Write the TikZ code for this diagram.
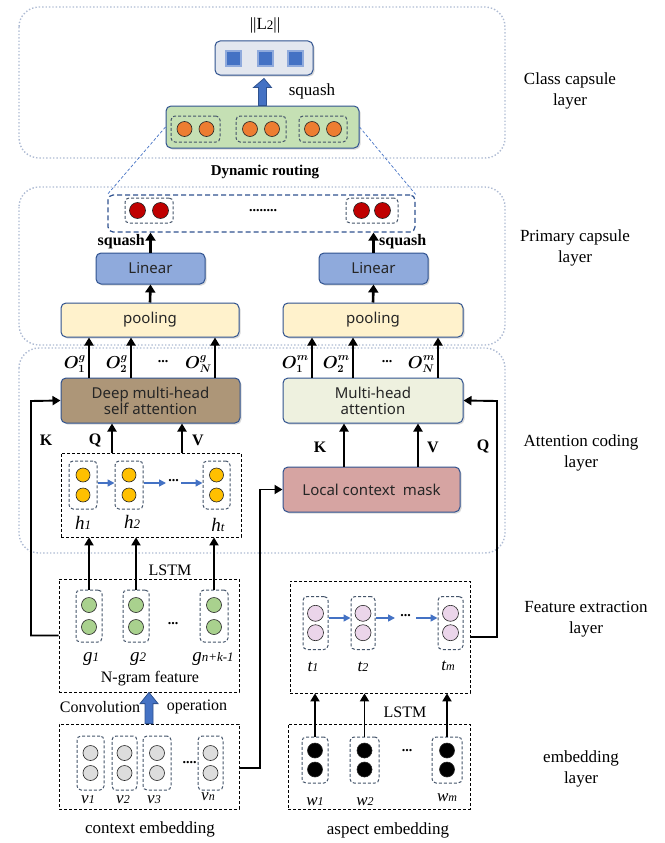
\documentclass[tikz,border=0pt]{standalone}
\usepackage{fontspec}
\usepackage{bm}
\setmainfont{Liberation Serif}
\newfontfamily\sansf{Noto Sans}
\usetikzlibrary{arrows.meta,shadows,calc}
\definecolor{bdr}{HTML}{2F528F}
\definecolor{layerc}{HTML}{AEBBD3}
\definecolor{cellc}{HTML}{44546A}
\definecolor{linfill}{HTML}{8FAADC}
\definecolor{poolfill}{HTML}{FFF2CC}
\definecolor{greenfill}{HTML}{C5E0B4}
\definecolor{outfill}{HTML}{E3E7EF}
\definecolor{sqin}{HTML}{4472C4}
\definecolor{sqout}{HTML}{8FAADC}
\definecolor{orng}{HTML}{ED7D31}
\definecolor{redc}{HTML}{C00000}
\definecolor{deepfill}{HTML}{AD9678}
\definecolor{mhfill}{HTML}{EEF1DF}
\definecolor{lcmfill}{HTML}{D6A4A2}
\definecolor{yel}{HTML}{FFC000}
\definecolor{grn}{HTML}{A9D18E}
\definecolor{pnk}{HTML}{EBD5EA}
\definecolor{gry}{HTML}{DDDDDD}
\definecolor{blu}{HTML}{4472C4}
\newcommand\vcell[7]{%
  \node[cellbox,minimum width=#4,minimum height=#5] (#1) at (#2,#3) {};
  \node[#7] (#1a) at (#2,#3-#6) {};
  \node[#7] (#1b) at (#2,#3+#6) {};}
\newcommand\hcell[7]{%
  \node[cellbox,minimum width=#4,minimum height=#5] (#1) at (#2,#3) {};
  \node[#7] (#1a) at (#2-#6,#3) {};
  \node[#7] (#1b) at (#2+#6,#3) {};}
\newcommand\olab[2]{$\bm{O}^{\raisebox{2pt}{$\scriptstyle\bm{#2}$}}_{\bm{#1}}$}
\begin{document}
\begin{tikzpicture}[x=1pt,y=-1pt,
  layerbox/.style={draw=layerc,dotted,line width=1.4pt,rounded corners=20pt},
  cbox/.style={draw=bdr,line width=1pt,rounded corners=5pt,inner sep=0,
     font=\sansf\fontsize{15}{18}\selectfont,text=black!85,align=center,
     drop shadow={shadow xshift=1.5pt,shadow yshift=-1.5pt,opacity=0.3}},
  cellbox/.style={draw=cellc,dashed,dash pattern=on 3pt off 2pt,line width=1pt,rounded corners=4pt,inner sep=0},
  bbox/.style={draw=black,dashed,dash pattern=on 3pt off 2pt,line width=0.8pt,inner sep=0},
  dotb/.style={circle,draw=black!85,line width=0.6pt,inner sep=0,minimum size=15pt},
  ydot/.style={dotb,fill=yel,minimum size=14pt},
  gdot/.style={dotb,fill=grn},
  pdot/.style={dotb,fill=pnk,minimum size=16pt},
  vdot/.style={dotb,fill=gry},
  kdot/.style={dotb,fill=black},
  odot/.style={dotb,fill=orng},
  rdot/.style={dotb,fill=redc,minimum size=16pt},
  sq/.style={draw=sqout,fill=sqin,line width=2pt,minimum size=15pt,inner sep=0},
  arr/.style={-{Triangle[length=8pt,width=9pt]},line width=1.9pt},
  tarr/.style={-{Triangle[length=8pt,width=10pt]},line width=2.6pt},
  barr/.style={draw=blu,-{Triangle[length=7pt,width=7pt]},line width=1.5pt},
  bigarr/.style={fill=blu,draw=bdr,line width=0.8pt,line join=miter},
  lbl/.style={font=\fontsize{16}{19}\selectfont,inner sep=0},
  blbl/.style={font=\bfseries\fontsize{15}{18}\selectfont,inner sep=0},
  rlbl/.style={font=\fontsize{17}{21}\selectfont,align=center,inner sep=0},
  ilbl/.style={font=\itshape\fontsize{19}{22}\selectfont,inner sep=0},
  olbl/.style={font=\fontsize{16}{19}\selectfont,inner sep=0,anchor=east},
  dots/.style={font=\bfseries\fontsize{14}{16}\selectfont,inner sep=0}
]
\useasboundingbox (0,0) rectangle (664,843);

% layer frames
\draw[layerbox] (19,7) rectangle (505,158);
\draw[layerbox] (19,187) rectangle (505,345);
\draw[layerbox] (19,348) rectangle (505,553);

% right labels
\node[rlbl] (lab1) at (570,90.5) {Class capsule\\layer};
\node[rlbl] (lab2) at (575,247.5) {Primary capsule\\layer};
\node[rlbl] (lab3) at (581,452.5) {Attention coding\\layer};
\node[rlbl] (lab4) at (586,619) {Feature extraction\\layer};
\node[rlbl] (lab5) at (581,768.5) {embedding\\layer};

% class capsule layer
\node[lbl,font=\fontsize{17}{20}\selectfont] (l2) at (265,25) {||L{\fontsize{13}{14}\selectfont 2}||};
\node[cbox,fill=outfill,minimum width=98pt,minimum height=34pt] (out) at (264,58) {};
\node[sq] (sq1) at (233,59) {};
\node[sq] (sq2) at (265,59) {};
\node[sq] (sq3) at (295,59) {};
\node[cbox,fill=greenfill,minimum width=193pt,minimum height=42pt] (green) at (262.5,127) {};
\hcell{oc1}{195.5}{129}{49pt}{26pt}{11}{odot}
\hcell{oc2}{261}{129}{50pt}{26pt}{11}{odot}
\hcell{oc3}{323}{129}{48pt}{26pt}{11}{odot}
\filldraw[bigarr] ($(green.north)+(-4,0)$) -- ++(0,-18) -- ++(-5,0) -- ($(out.south)+(0,3)$)
   -- ($(green.north)+(9,-18)$) -- ++(-5,0) -- ($(green.north)+(4,0)$) -- cycle;
\node[lbl,font=\fontsize{17}{20}\selectfont] (sq0) at (312,91) {squash};
\node[blbl] (dyn) at (265,172) {Dynamic routing};

% primary capsule layer
\node[draw=bdr,dashed,dash pattern=on 5pt off 3pt,line width=1.2pt,rounded corners=5pt,
  minimum width=307pt,minimum height=37pt,inner sep=0] (prim) at (261.5,213.5) {};
\hcell{rc1}{149}{210.5}{48pt}{25pt}{11.5}{rdot}
\hcell{rc2}{372}{210.5}{52pt}{25pt}{10.5}{rdot}
\node[dots] (pdots) at (263,211) {........};
\draw[blu,dashed,dash pattern=on 3pt off 2pt,line width=0.7pt] (green.west) -- (prim.north west);
\draw[blu,dashed,dash pattern=on 3pt off 2pt,line width=0.7pt] (green.east) -- (prim.north east);

\node[cbox,fill=linfill,minimum width=109pt,minimum height=31pt] (lin1) at (150.5,268.5) {Linear};
\node[cbox,fill=linfill,minimum width=109pt,minimum height=31pt] (lin2) at (373.5,268.5) {Linear};
\node[cbox,fill=poolfill,minimum width=178pt,minimum height=34pt] (pool1) at (150,320) {pooling};
\node[cbox,fill=poolfill,minimum width=180pt,minimum height=34pt] (pool2) at (373,320) {pooling};
\draw[tarr] (pool1.north) -- (lin1.south);
\draw[tarr] (pool2.north) -- (lin2.south);
\draw[tarr] (lin1.north) -- (lin1.north |- prim.south);
\draw[tarr] (lin2.north) -- (lin2.north |- prim.south);
\node[blbl,font=\bfseries\fontsize{16}{19}\selectfont,anchor=east] (sqL) at (145,242) {squash};
\node[blbl,font=\bfseries\fontsize{16}{19}\selectfont,anchor=west] (sqR) at (379,242) {squash};

% attention coding layer
\node[cbox,fill=deepfill,minimum width=179pt,minimum height=45pt] (deep) at (150.5,400.5) {Deep multi-head\\[-2pt]self attention};
\node[cbox,fill=mhfill,minimum width=180pt,minimum height=45pt] (mh) at (373,400.5) {Multi-head\\[-2pt]attention};
\node[cbox,fill=lcmfill,minimum width=177pt,minimum height=45pt] (lcm) at (371.5,489.5) {Local context\ \ mask};

\draw[arr] (89,0 |- deep.north) -- (89,0 |- pool1.south);
\draw[arr] (131,0 |- deep.north) -- (131,0 |- pool1.south);
\draw[arr] (215,0 |- deep.north) -- (215,0 |- pool1.south);
\draw[arr] (312,0 |- mh.north) -- (312,0 |- pool2.south);
\draw[arr] (353,0 |- mh.north) -- (353,0 |- pool2.south);
\draw[arr] (438,0 |- mh.north) -- (438,0 |- pool2.south);
\node[olbl] (og1) at (86,364) {\olab{1}{g}};
\node[olbl] (og2) at (128,364) {\olab{2}{g}};
\node[dots] (ogd) at (163,362) {...};
\node[olbl] (og3) at (212,364) {\olab{N}{g}};
\node[olbl] (om1) at (309,364) {\olab{1}{m}};
\node[olbl] (om2) at (350,364) {\olab{2}{m}};
\node[dots] (omd) at (387,362) {...};
\node[olbl] (om3) at (435,364) {\olab{N}{m}};

\node[bbox,minimum width=180pt,minimum height=84pt] (hbox) at (151,495) {};
\vcell{h1}{83}{485}{28pt}{48pt}{10}{ydot}
\vcell{h2}{129}{485}{28pt}{48pt}{10}{ydot}
\vcell{h3}{216.5}{485}{27pt}{48pt}{10}{ydot}
\coordinate (hd1) at (166,483);
\coordinate (hd2) at (181,483);
\draw[barr] (h1.east |- 0,483) -- (h2.west |- 0,483);
\draw[barr] (h2.east |- 0,483) -- (hd1);
\node[dots] (hdots) at (173.5,481) {...};
\draw[barr] (hd2) -- (h3.west |- 0,483);
\node[ilbl] (hl1) at (83,523) {h{\fontsize{13}{14}\selectfont 1}};
\node[ilbl] (hl2) at (132,522) {h{\fontsize{13}{14}\selectfont 2}};
\node[ilbl] (hl3) at (218,525) {h{\fontsize{13}{14}\selectfont t}};

\draw[arr] (112,0 |- hbox.north) -- (112,0 |- deep.south);
\draw[arr] (182,0 |- hbox.north) -- (182,0 |- deep.south);
\node[blbl,font=\bfseries\fontsize{16}{19}\selectfont] (kl) at (46,440) {K};
\node[blbl,font=\bfseries\fontsize{16}{19}\selectfont] (ql) at (95,440) {Q};
\node[blbl,font=\bfseries\fontsize{16}{19}\selectfont] (vl) at (198,440) {V};
\draw[arr] (344,0 |- lcm.north) -- (344,0 |- mh.south);
\draw[arr] (418,0 |- lcm.north) -- (418,0 |- mh.south);
\node[blbl,font=\bfseries\fontsize{16}{19}\selectfont] (kr) at (320,447) {K};
\node[blbl,font=\bfseries\fontsize{16}{19}\selectfont] (vr) at (433,447) {V};
\node[blbl,font=\bfseries\fontsize{16}{19}\selectfont] (qr) at (483,446) {Q};

% feature extraction
\node[bbox,minimum width=180pt,minimum height=113pt] (ngram) at (149,635.5) {};
\vcell{g1}{89}{616}{26pt}{52pt}{11}{gdot}
\vcell{g2}{136}{616}{26pt}{52pt}{11}{gdot}
\vcell{g3}{214}{616}{28pt}{52pt}{11}{gdot}
\node[dots] (gdots) at (173,624) {...};
\node[ilbl] (gl1) at (91,659) {g{\fontsize{13}{14}\selectfont 1}};
\node[ilbl] (gl2) at (138,659) {g{\fontsize{13}{14}\selectfont 2}};
\node[ilbl] (gl3) at (213,659) {g{\fontsize{13}{14}\selectfont n+k-1}};
\node[lbl] (ngl) at (150,679) {N-gram feature};
\node[lbl] (lstm1) at (170,570) {LSTM};
\draw[arr] (g1.north) -- (g1.north |- hbox.south);
\draw[arr] (g2.north) -- (g2.north |- hbox.south);
\draw[arr] (g3.north) -- (g3.north |- hbox.south);

\node[bbox,minimum width=180pt,minimum height=112pt] (asp) at (380,637) {};
\vcell{t1}{315.5}{623}{25pt}{53pt}{9.7}{pdot}
\vcell{t2}{363}{623}{24pt}{53pt}{9.7}{pdot}
\vcell{t3}{450.5}{623}{25pt}{53pt}{9.7}{pdot}
\coordinate (td1) at (395,618);
\coordinate (td2) at (416,618);
\draw[barr] (t1.east |- 0,618) -- (t2.west |- 0,618);
\draw[barr] (t2.east |- 0,618) -- (td1);
\node[dots] (tdots) at (405.5,616) {...};
\draw[barr] (td2) -- (t3.west |- 0,618);
\node[ilbl,font=\itshape\fontsize{17}{20}\selectfont] (tl1) at (313,667) {t{\fontsize{12}{14}\selectfont 1}};
\node[ilbl,font=\itshape\fontsize{17}{20}\selectfont] (tl2) at (363,667) {t{\fontsize{12}{14}\selectfont 2}};
\node[ilbl,font=\itshape\fontsize{17}{20}\selectfont] (tl3) at (448,666) {t{\fontsize{12}{14}\selectfont m}};

% embedding layer
\node[bbox,minimum width=180pt,minimum height=85pt] (ctx) at (149,766.5) {};
\vcell{v1}{90.5}{763}{27pt}{54pt}{10}{vdot}
\vcell{v2}{124.5}{763}{25pt}{54pt}{10}{vdot}
\vcell{v3}{157}{763}{28pt}{54pt}{10}{vdot}
\vcell{v4}{210.5}{763}{25pt}{54pt}{10}{vdot}
\node[dots] (vdots) at (189.5,763) {....};
\node[ilbl,font=\itshape\fontsize{17}{20}\selectfont] (vl1) at (88,800) {v{\fontsize{12}{14}\selectfont 1}};
\node[ilbl,font=\itshape\fontsize{17}{20}\selectfont] (vl2) at (123,800) {v{\fontsize{12}{14}\selectfont 2}};
\node[ilbl,font=\itshape\fontsize{17}{20}\selectfont] (vl3) at (154,800) {v{\fontsize{12}{14}\selectfont 3}};
\node[ilbl,font=\itshape\fontsize{17}{20}\selectfont] (vl4) at (208,797) {v{\fontsize{12}{14}\selectfont n}};
\node[rlbl] (ctxl) at (150,829) {context embedding};

\node[bbox,minimum width=182pt,minimum height=85pt] (aemb) at (379,766.5) {};
\vcell{w1}{315}{760}{26pt}{46pt}{9.5}{kdot}
\vcell{w2}{364.5}{760}{29pt}{46pt}{9.5}{kdot}
\vcell{w3}{447}{760}{30pt}{46pt}{9.5}{kdot}
\node[dots] (wdots) at (407,751) {...};
\node[ilbl,font=\itshape\fontsize{17}{20}\selectfont] (wl1) at (315,802) {w{\fontsize{12}{14}\selectfont 1}};
\node[ilbl,font=\itshape\fontsize{17}{20}\selectfont] (wl2) at (365,802) {w{\fontsize{12}{14}\selectfont 2}};
\node[ilbl,font=\itshape\fontsize{17}{20}\selectfont] (wl3) at (447,798) {w{\fontsize{12}{14}\selectfont m}};
\node[rlbl] (aembl) at (388,830) {aspect embedding};
\node[lbl] (lstm2) at (405,712) {LSTM};
\draw[arr] (w1.north) -- (w1.north |- asp.south);
\draw[arr] (w2.north) -- (w2.north |- asp.south);
\draw[arr] (w3.north) -- (w3.north |- asp.south);

% convolution arrow
\node[lbl] (convl) at (100,707) {Convolution};
\node[lbl] (opl) at (197,707) {operation};
\filldraw[bigarr] ($(ctx.north)+(-4,0)$) -- ++(0,-20) -- ++(-5,0) -- (ngram.south)
   -- ($(ctx.north)+(9,-20)$) -- ++(-5,0) -- ($(ctx.north)+(4,0)$) -- cycle;

% long connectors
\coordinate (kbend) at (31,401);
\draw[arr] (ngram.west) -- (kbend |- ngram.west) -- (kbend) -- (deep.west);
\coordinate (qbend) at (497,401);
\draw[arr] (asp.east) -- (qbend |- asp.east) -- (qbend) -- (mh.east);
\coordinate (lbend) at (260,490);
\draw[arr] (ctx.east |- 0,768) -- (lbend |- 0,768) -- (lbend |- lcm.west) -- (lcm.west);
\end{tikzpicture}
\end{document}
